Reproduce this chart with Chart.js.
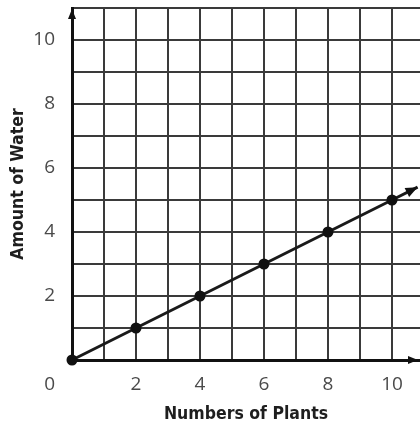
<!DOCTYPE html>
<html>
<head>
<meta charset="utf-8">
<script src="https://cdn.jsdelivr.net/npm/chart.js@4.4.1/dist/chart.umd.min.js"></script>
<style>
  html, body { margin: 0; padding: 0; background: #fff; overflow: hidden; }
  #wrap { width: 420px; height: 427px; position: relative; }
  canvas { display: block; }
</style>
</head>
<body>
<div id="wrap"><canvas id="chart"></canvas></div>
<script>
// data
const plants = [0, 2, 4, 6, 8, 10];
const water = [0, 1, 2, 3, 4, 5];
// the line keeps going past the last point and ends in an arrow
const arrowEnd = { x: 10.8, y: 5.4 };
const xTickLabels = [2, 4, 6, 8, 10];
const yTickLabels = [2, 4, 6, 8, 10];

const xMax = 10.875;
const yMax = 11;

const points = plants.map((p, i) => ({ x: p, y: water[i] }));
points.push(arrowEnd);

function arrowHead(ctx, x1, y1, x2, y2, len, half) {
  const a = Math.atan2(y2 - y1, x2 - x1);
  ctx.beginPath();
  ctx.moveTo(x2, y2);
  ctx.lineTo(x2 - len * Math.cos(a) + half * Math.sin(a), y2 - len * Math.sin(a) - half * Math.cos(a));
  ctx.lineTo(x2 - len * Math.cos(a) - half * Math.sin(a), y2 - len * Math.sin(a) + half * Math.cos(a));
  ctx.closePath();
  ctx.fill();
}

// arrows on the axes and the line, plus the lone "0" in the corner
const extras = {
  id: 'extras',
  afterDatasetsDraw(chart) {
    const { ctx, scales: { x, y } } = chart;
    const x0 = x.getPixelForValue(0), y0 = y.getPixelForValue(0);
    ctx.save();
    ctx.fillStyle = '#111';
    arrowHead(ctx, x0, y0, x.right - 2, y0, 10, 4);
    arrowHead(ctx, x0, y0, x0, y.top + 1, 10, 4);
    const n = points.length;
    const px1 = x.getPixelForValue(points[n - 2].x), py1 = y.getPixelForValue(points[n - 2].y);
    const px2 = x.getPixelForValue(points[n - 1].x), py2 = y.getPixelForValue(points[n - 1].y);
    arrowHead(ctx, px1, py1, px2, py2, 12, 5);
    ctx.fillStyle = '#4a4a4a';
    ctx.font = '19px "Open Sans", sans-serif';
    ctx.textAlign = 'right';
    ctx.textBaseline = 'middle';
    ctx.fillText('0', x0 - 17, y0 + 25);
    ctx.restore();
  }
};

const titleFont = { family: '"DejaVu Sans Condensed", sans-serif', size: 17.5, weight: 'bold' };

new Chart(document.getElementById('chart'), {
  type: 'scatter',
  data: {
    datasets: [{
      data: points,
      showLine: true,
      borderColor: '#1a1a1a',
      borderWidth: 3,
      pointBackgroundColor: '#111',
      pointBorderColor: '#111',
      pointRadius: ctx => (ctx.dataIndex < plants.length ? 4 : 0),
      clip: false
    }]
  },
  options: {
    responsive: true,
    maintainAspectRatio: false,
    animation: false,
    layout: { autoPadding: false, padding: { top: 8, right: 0, left: 0, bottom: 0 } },
    plugins: { legend: { display: false }, tooltip: { enabled: false } },
    scales: {
      x: {
        type: 'linear',
        min: 0,
        max: xMax,
        afterFit: s => { s.height = 67; s.paddingLeft = 0; s.paddingRight = 0; },
        ticks: {
          stepSize: 1,
          includeBounds: false,
          autoSkip: false,
          maxRotation: 0,
          padding: 13,
          color: '#4a4a4a',
          font: { family: '"Open Sans", sans-serif', size: 19 },
          callback: v => (xTickLabels.includes(v) ? String(v) : '')
        },
        grid: { color: '#3a3a3a', lineWidth: 2, drawTicks: false },
        border: { color: '#111', width: 3 },
        title: {
          display: true,
          text: 'Numbers of Plants',
          color: '#1e1e1e',
          font: titleFont,
          padding: { top: 0, bottom: 2 }
        }
      },
      y: {
        type: 'linear',
        min: 0,
        max: yMax,
        afterFit: s => { s.width = 72; s.paddingTop = 0; s.paddingBottom = 0; },
        ticks: {
          stepSize: 1,
          autoSkip: false,
          padding: 17,
          color: '#4a4a4a',
          font: { family: '"Open Sans", sans-serif', size: 19 },
          callback: v => (yTickLabels.includes(v) ? String(v) : '')
        },
        grid: { color: '#3a3a3a', lineWidth: 2, drawTicks: false },
        border: { color: '#111', width: 3 },
        title: {
          display: true,
          text: 'Amount of Water',
          color: '#1e1e1e',
          font: titleFont,
          padding: { top: 8, bottom: 0 }
        }
      }
    }
  },
  plugins: [extras]
});
</script>
</body>
</html>
